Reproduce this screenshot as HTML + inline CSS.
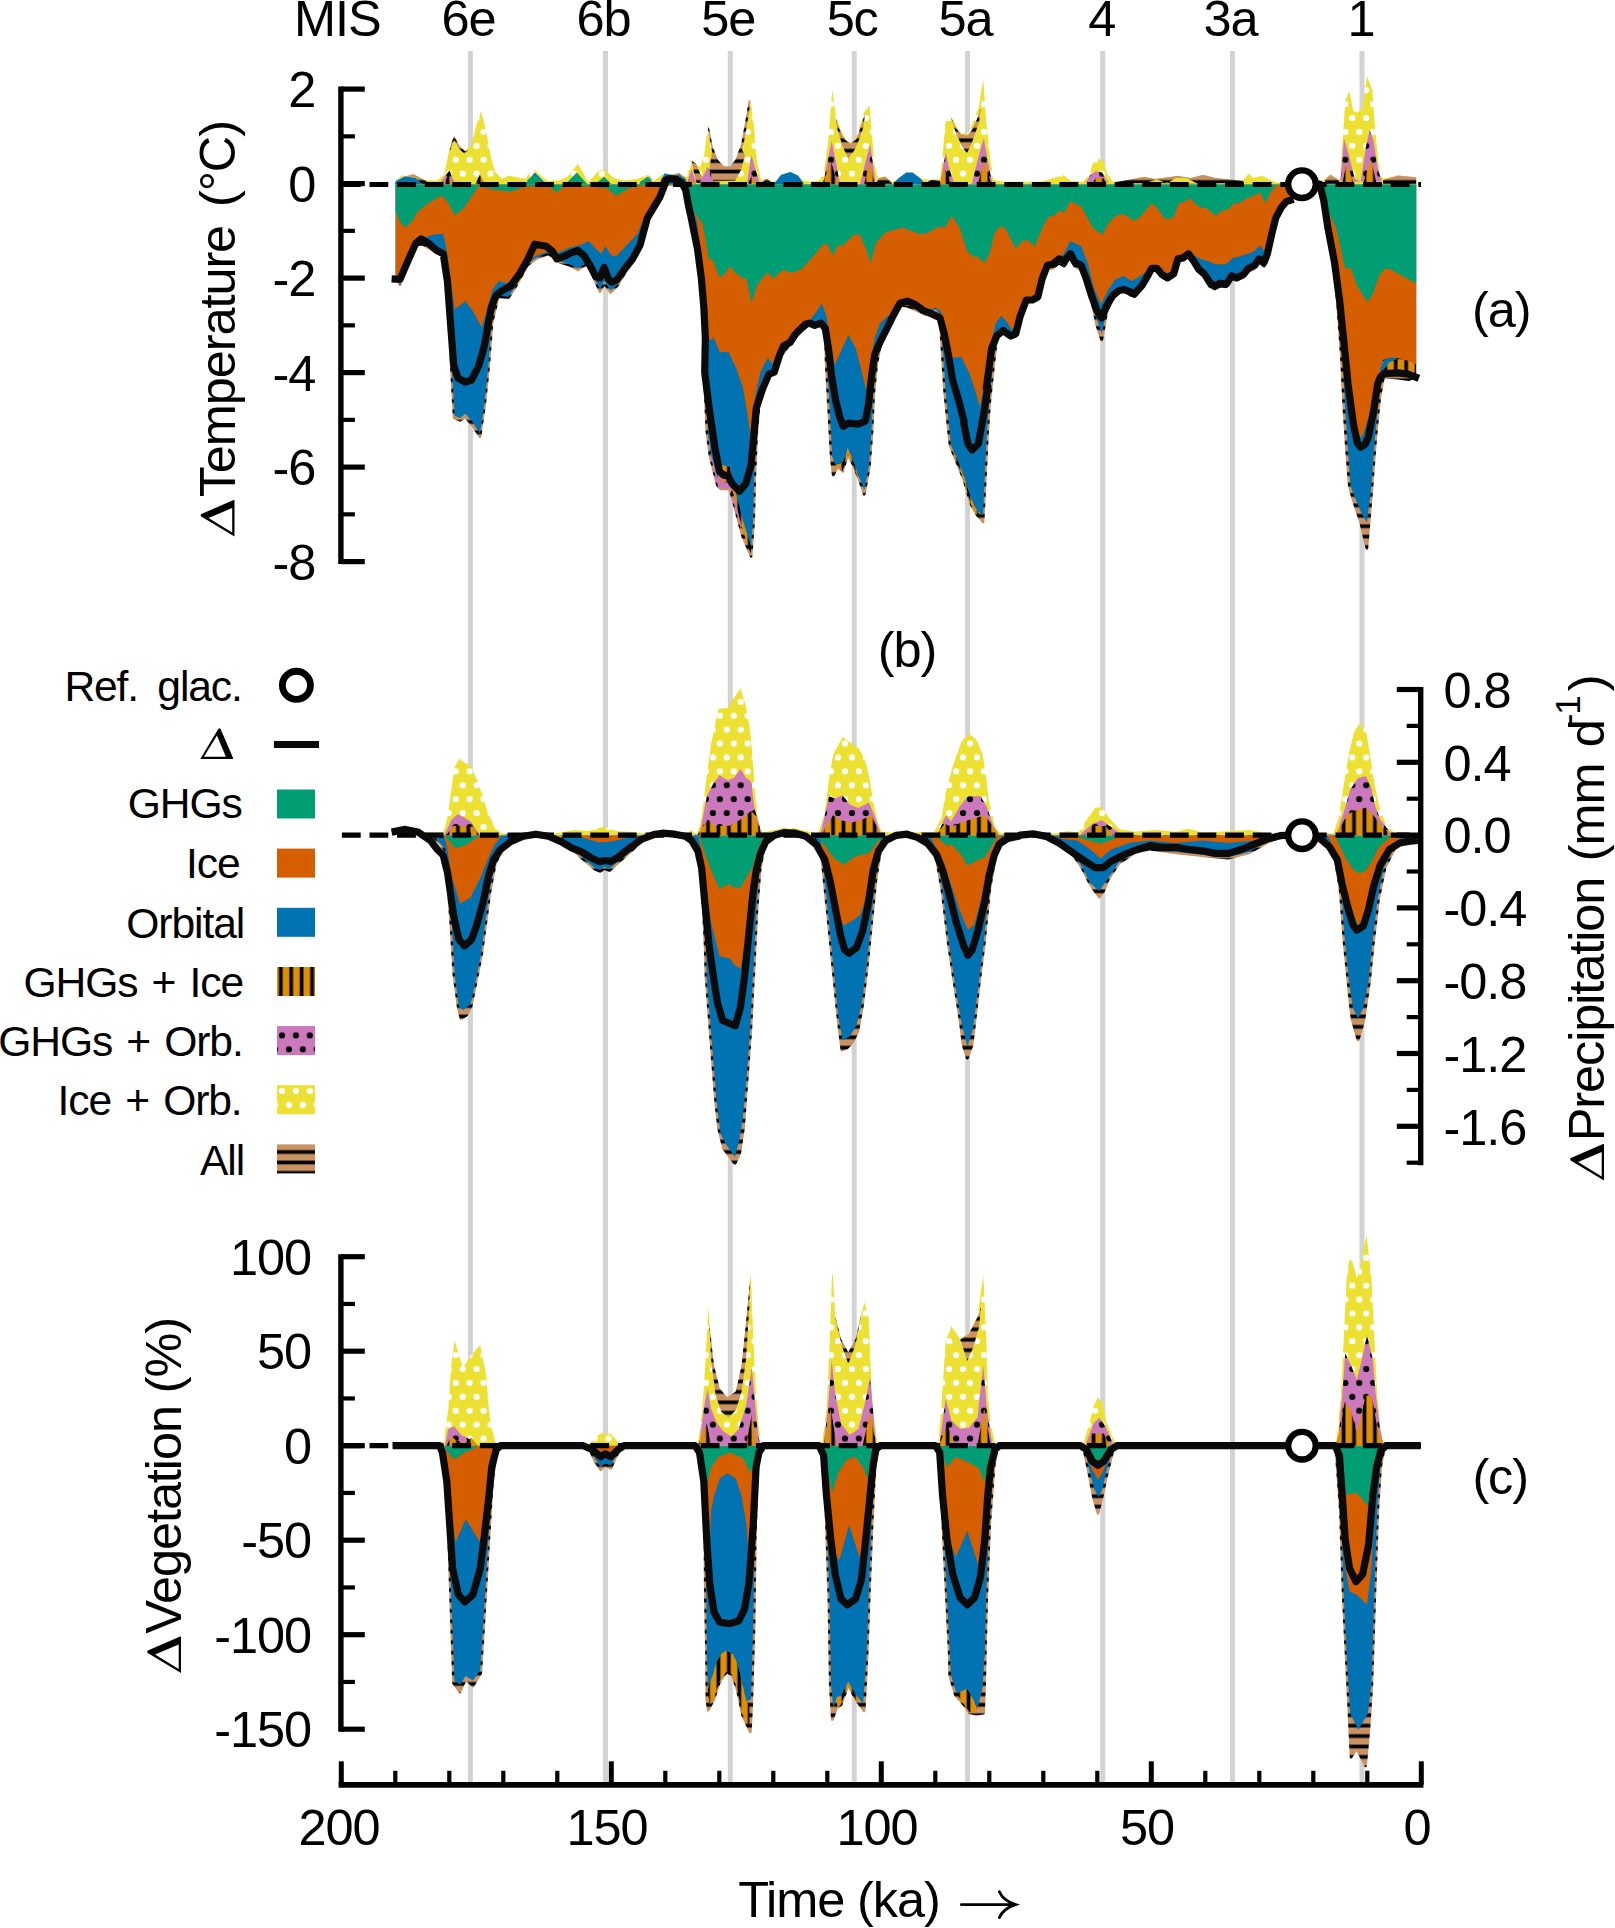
<!DOCTYPE html><html><head><meta charset="utf-8"><title>fig</title>
<style>html,body{margin:0;padding:0;background:#fff}svg{display:block}text{font-family:"Liberation Sans",sans-serif;fill:#000;letter-spacing:-1.1px}</style></head><body>
<svg width="1615" height="1928" viewBox="0 0 1615 1928">
<defs>
<pattern id="pY" patternUnits="userSpaceOnUse" x="275.05" y="1028.45" width="13.9" height="27.8"><rect width="13.9" height="27.8" fill="#ECE133"/><circle cx="6.95" cy="6.95" r="3.1" fill="#fff"/><circle cx="0" cy="20.85" r="3.1" fill="#fff"/><circle cx="13.9" cy="20.85" r="3.1" fill="#fff"/></pattern>
<pattern id="pP" patternUnits="userSpaceOnUse" x="275.05" y="1028.45" width="13.9" height="27.8"><rect width="13.9" height="27.8" fill="#CC78BC"/><circle cx="6.95" cy="6.95" r="3.1" fill="#000"/><circle cx="0" cy="20.85" r="3.1" fill="#000"/><circle cx="13.9" cy="20.85" r="3.1" fill="#000"/></pattern>
<pattern id="pV" patternUnits="userSpaceOnUse" x="275.59" y="0" width="10.42" height="20"><rect width="10.42" height="20" fill="#DE8F05"/><rect x="3.36" width="3.7" height="20" fill="#000"/></pattern>
<pattern id="pH" patternUnits="userSpaceOnUse" x="0" y="1146.79" width="20" height="10.43"><rect width="20" height="10.43" fill="#CA9161"/><rect y="3.36" width="20" height="3.7" fill="#000"/></pattern>
</defs>
<rect width="1615" height="1928" fill="#fff"/>
<line x1="470.4" y1="51" x2="470.4" y2="1783" stroke="#D3D3D3" stroke-width="5"/>
<line x1="605.5" y1="51" x2="605.5" y2="1783" stroke="#D3D3D3" stroke-width="5"/>
<line x1="730.3" y1="51" x2="730.3" y2="1783" stroke="#D3D3D3" stroke-width="5"/>
<line x1="854.2" y1="51" x2="854.2" y2="1783" stroke="#D3D3D3" stroke-width="5"/>
<line x1="967.6" y1="51" x2="967.6" y2="1783" stroke="#D3D3D3" stroke-width="5"/>
<line x1="1102.8" y1="51" x2="1102.8" y2="1783" stroke="#D3D3D3" stroke-width="5"/>
<line x1="1232.5" y1="51" x2="1232.5" y2="1783" stroke="#D3D3D3" stroke-width="5"/>
<line x1="1362" y1="51" x2="1362" y2="1783" stroke="#D3D3D3" stroke-width="5"/>
<text x="337.3" y="35.9" font-size="50.5" text-anchor="middle" >MIS</text>
<text x="468.4" y="35.7" font-size="50.5" text-anchor="middle" >6e</text>
<text x="603.5" y="35.7" font-size="50.5" text-anchor="middle" >6b</text>
<text x="728.3" y="35.7" font-size="50.5" text-anchor="middle" >5e</text>
<text x="852.2" y="35.7" font-size="50.5" text-anchor="middle" >5c</text>
<text x="965.6" y="35.7" font-size="50.5" text-anchor="middle" >5a</text>
<text x="1101.8" y="35.7" font-size="50.5" text-anchor="middle" >4</text>
<text x="1230.5" y="35.7" font-size="50.5" text-anchor="middle" >3a</text>
<text x="1361" y="35.7" font-size="50.5" text-anchor="middle" >1</text>
<g id="panelA">
<polygon points="397.3,184.2 397.3,184.2 397.3,280.0 400.0,284.2 407.4,263.2 415.8,245.3 422.1,244.2 432.6,250.5 443.2,255.8 447.4,271.6 451.2,365.3 454.1,417.9 460.0,420.4 465.3,416.8 472.6,425.3 480.0,436.8 484.6,405.3 488.8,365.3 492.0,323.2 498.3,296.8 508.4,297.9 514.7,288.4 527.4,265.3 535.8,258.9 548.4,253.7 558.9,262.1 569.5,265.3 577.9,269.9 588.4,263.2 594.7,280.0 600.0,291.6 604.2,283.2 610.5,292.6 616.8,286.3 628.4,267.4 638.9,250.5 645.3,221.1 653.7,208.4 662.1,191.6 665.3,184.6 683.2,184.6 688.5,187.6 691.0,209.4 694.5,229.3 698.5,259.0 701.4,288.7 703.4,318.4 703.1,351.1 705.2,393.2 706.8,431.1 710.0,456.3 717.4,485.8 720.5,488.9 730.0,488.9 735.3,508.9 742.6,536.3 751.1,556.3 753.8,519.5 754.8,477.4 756.9,431.1 759.1,405.8 763.7,390.0 770.0,374.2 774.2,373.2 779.5,358.4 788.4,346.3 798.9,333.7 809.5,324.2 814.7,326.3 821.1,324.2 825.3,329.5 826.0,361.6 828.9,414.2 831.1,456.3 833.2,475.3 837.4,466.8 842.6,471.1 847.9,454.2 853.2,464.7 858.4,477.4 864.3,494.2 869.4,466.8 872.1,431.1 873.8,393.2 876.9,363.7 880.1,346.8 887.4,328.4 893.7,315.8 900.0,305.3 907.4,306.3 914.7,309.5 923.2,313.7 931.6,315.8 940.0,320.0 941.8,346.8 944.7,393.2 950.0,445.8 955.3,458.4 963.7,479.5 971.1,504.7 977.4,515.3 983.1,522.0 985.4,477.4 987.5,435.3 989.6,403.7 993.8,363.7 996.8,338.3 1003.2,332.8 1010.5,338.3 1015.8,336.2 1020.0,319.4 1025.3,303.2 1032.6,300.8 1042.1,281.1 1047.4,268.4 1052.6,268.4 1058.9,263.2 1064.2,266.3 1070.5,257.9 1074.7,266.3 1081.1,269.5 1086.3,282.1 1091.6,300.0 1096.8,325.3 1101.7,340.4 1106.7,312.6 1112.6,298.9 1118.9,292.6 1124.2,291.6 1129.5,294.7 1134.7,296.8 1142.1,287.4 1148.4,276.8 1151.6,270.5 1156.8,270.5 1162.1,276.8 1167.4,280.0 1173.7,275.8 1177.9,261.1 1183.2,260.0 1188.4,255.8 1193.7,263.2 1198.9,272.6 1204.2,276.8 1209.5,286.3 1214.7,289.5 1220.0,286.3 1226.3,286.9 1231.6,278.9 1236.8,280.6 1243.2,276.8 1248.4,271.6 1254.7,268.4 1258.9,262.1 1264.2,266.3 1267.4,255.8 1271.6,236.8 1275.8,220.0 1281.1,209.5 1286.3,203.2 1291.6,196.8 1295.8,184.6 1314.7,184.6 1322.4,186.8 1324.5,211.1 1332.4,248.8 1337.5,302.8 1341.3,356.7 1344.0,410.7 1346.6,451.2 1349.3,486.2 1353.9,502.4 1360.7,522.6 1366.9,548.8 1371.7,491.6 1375.8,437.7 1379.8,397.2 1383.6,377.0 1397.9,378.3 1408.7,379.7 1414.6,377.0 1414.6,184.1 1414.6,184.2" fill="url(#pH)" stroke="url(#pH)" stroke-width="2.6" stroke-linejoin="round"/>
<polygon points="707.9,431.1 710.6,455.3 717.8,485.4 720.7,488.3 730.0,488.3 735.3,508.5 740.5,527.9 742.6,525.8 736.3,498.4 731.1,477.4 721.6,466.8 711.1,447.9" fill="url(#pP)" />
<polygon points="711.1,447.9 719.5,456.3 721.6,481.6 730.0,482.6 734.6,498.4 742.6,530.0 750.6,553.2 751.5,546.8 743.7,519.5 735.3,490.0 730.0,466.8 721.6,464.7 717.4,477.4 712.1,455.3" fill="url(#pV)" />
<polygon points="835.3,464.7 837.4,466.8 842.6,471.1 847.9,454.2 853.2,464.7 857.4,477.4 858.4,475.3 853.2,460.5 847.9,447.9 842.6,462.6" fill="url(#pV)" />
<polygon points="951.1,445.8 955.3,458.4 963.7,479.5 971.1,504.7 977.4,515.3 980.5,518.4 977.4,511.1 971.1,498.4 963.7,475.3 955.3,454.2" fill="url(#pV)" />
<polygon points="395.6,184.2 395.6,184.2 395.6,278.9 400.0,281.1 407.4,262.1 415.8,244.2 422.1,243.2 432.6,249.5 443.2,254.7 447.4,270.5 451.6,365.3 454.7,415.8 460.0,417.9 465.3,413.7 472.6,422.1 480.0,433.7 484.2,405.3 488.4,365.3 491.6,323.2 497.9,295.8 508.4,296.8 514.7,287.4 527.4,264.2 535.8,257.9 548.4,252.6 558.9,261.1 569.5,264.2 577.9,268.4 588.4,262.1 594.7,278.9 600.0,289.5 604.2,281.1 610.5,290.5 616.8,285.3 628.4,266.3 638.9,249.5 645.3,220.0 653.7,207.4 662.1,190.5 665.3,184.6 683.2,184.6 688.5,187.6 691.5,209.4 695.5,229.3 699.4,259.0 702.4,288.7 704.4,318.4 704.7,351.1 706.8,393.2 707.9,431.1 711.1,454.2 717.4,477.4 721.6,464.7 730.0,466.8 735.3,490.0 742.6,519.5 751.1,546.8 753.2,519.5 754.2,477.4 756.3,431.1 758.4,405.8 763.7,388.9 770.0,372.1 774.2,372.1 779.5,357.4 788.4,344.2 798.9,331.6 809.5,323.2 814.7,325.3 821.1,323.2 825.3,328.4 826.8,361.6 830.0,414.2 832.1,456.3 835.3,464.7 842.6,462.6 847.9,447.9 853.2,460.5 858.4,475.3 864.3,490.0 868.9,466.8 871.5,431.1 873.2,393.2 876.3,363.7 879.5,346.8 887.4,327.4 893.7,314.7 900.0,304.2 907.4,305.3 914.7,307.4 923.2,311.6 931.6,310.5 935.8,308.4 941.1,317.9 942.6,346.8 945.8,393.2 951.1,445.8 955.3,454.2 963.7,475.3 971.1,498.4 977.4,511.1 983.1,515.3 984.7,477.4 986.8,435.3 988.9,403.7 993.2,363.7 996.8,337.5 1003.2,332.0 1010.5,337.5 1015.8,335.4 1020.0,318.5 1025.3,302.1 1032.6,300.0 1042.1,280.0 1047.4,267.4 1052.6,267.4 1058.9,262.1 1064.2,265.3 1070.5,256.8 1074.7,265.3 1081.1,268.4 1086.3,281.1 1091.6,297.9 1096.8,318.9 1101.7,333.7 1106.3,312.6 1112.6,297.9 1118.9,291.6 1124.2,290.5 1129.5,293.7 1134.7,295.8 1142.1,286.3 1148.4,275.8 1151.6,269.5 1156.8,269.5 1162.1,275.8 1167.4,278.9 1173.7,274.7 1177.9,260.0 1183.2,258.9 1188.4,254.7 1193.7,262.1 1198.9,270.5 1204.2,274.7 1209.5,283.2 1214.7,286.3 1220.0,284.2 1226.3,285.3 1231.6,276.8 1236.8,278.9 1243.2,275.8 1248.4,270.5 1254.7,267.4 1258.9,261.1 1264.2,265.3 1267.4,254.7 1271.6,235.8 1275.8,218.9 1281.1,208.4 1286.3,202.1 1291.6,195.8 1295.8,184.6 1314.7,184.6 1322.4,186.8 1325.1,211.1 1333.2,248.8 1338.6,302.8 1342.6,356.7 1345.3,410.7 1348.0,451.2 1350.7,486.2 1354.7,497.0 1361.5,513.2 1366.9,522.6 1370.9,491.6 1375.0,437.7 1379.0,397.2 1383.1,360.0 1389.8,358.1 1397.9,358.1 1416.2,366.2 1416.2,184.1 1416.2,184.2" fill="#0173B2" />
<polygon points="395.6,184.2 395.6,184.2 395.6,278.9 400.0,281.1 407.4,262.1 415.8,243.2 422.1,238.9 432.6,234.7 443.2,233.7 447.4,253.7 451.6,287.4 454.7,309.5 465.3,301.1 472.6,310.5 481.7,327.4 487.4,308.4 492.6,289.5 498.9,281.1 506.3,283.2 514.7,278.9 527.4,262.1 535.8,255.8 548.4,251.6 558.9,252.6 569.5,247.4 580.0,245.3 588.4,241.1 594.7,247.4 601.1,253.7 605.3,246.3 611.6,255.8 616.8,255.8 628.4,243.2 636.8,234.7 645.3,215.8 653.7,205.3 662.1,188.4 665.3,184.6 683.2,184.6 688.5,187.6 692.5,209.4 696.5,219.3 699.4,239.2 702.4,268.9 705.4,298.6 708.4,338.2 709.5,340.0 713.7,337.9 720.0,352.6 728.4,351.6 736.8,369.5 743.2,388.4 747.4,413.7 750.5,436.8 751.1,431.1 755.3,395.3 760.5,372.1 767.9,357.4 772.1,363.7 772.6,364.2 780.0,346.3 788.4,342.1 798.9,329.5 809.5,321.1 815.8,312.6 821.7,303.2 826.3,315.8 829.5,333.7 834.7,365.3 848.4,334.7 855.8,348.4 861.1,369.5 866.3,390.5 870.5,363.2 874.7,337.9 880.0,323.2 885.3,317.9 893.7,312.6 902.1,305.3 910.5,306.3 921.1,310.5 930.5,309.5 935.8,307.4 941.1,311.6 944.2,340.0 951.6,357.9 961.1,356.8 969.5,373.7 975.8,392.6 980.0,407.4 985.3,375.8 991.6,340.0 995.8,323.2 1001.1,315.8 1006.3,321.1 1011.6,329.5 1017.9,325.3 1024.2,302.1 1032.6,297.9 1042.1,278.9 1047.4,265.3 1057.9,256.8 1063.2,254.7 1070.5,241.1 1081.1,246.3 1087.4,262.1 1093.7,287.4 1101.1,304.2 1108.4,289.5 1114.7,280.0 1123.2,275.8 1131.6,281.1 1142.1,274.7 1150.5,267.4 1158.9,272.6 1167.4,277.9 1174.7,272.6 1177.9,258.9 1188.4,251.6 1194.7,255.8 1201.1,258.9 1207.4,261.1 1215.8,264.2 1226.3,264.2 1232.6,257.9 1238.9,256.8 1247.4,253.7 1253.7,251.6 1260.0,245.3 1264.2,251.6 1267.4,253.7 1271.6,234.7 1275.8,217.9 1281.1,207.4 1286.3,201.1 1291.6,194.7 1295.8,184.6 1314.7,184.6 1322.4,186.8 1325.1,211.1 1333.2,248.8 1339.9,302.8 1344.0,343.2 1348.0,383.7 1353.4,424.2 1360.7,437.7 1362.8,435.0 1370.9,410.7 1376.3,383.7 1383.1,359.4 1389.8,358.1 1397.9,358.1 1416.2,364.8 1416.2,184.1 1416.2,184.2" fill="#D55E00" />
<polygon points="395.6,184.2 395.6,184.2 395.6,211.6 400.0,222.1 405.3,227.4 411.6,222.1 417.9,211.6 428.4,203.2 438.9,196.8 443.2,196.4 448.4,203.2 454.7,215.4 464.2,207.4 472.6,194.7 478.9,185.9 491.6,189.5 510.5,191.6 527.4,186.3 548.4,186.3 556.8,192.6 563.2,186.3 590.5,186.3 607.4,188.4 615.8,195.8 628.4,188.4 643.2,185.3 660.0,184.6 683.2,184.6 688.5,187.6 693.5,211.4 702.4,223.3 705.4,239.2 708.4,258.0 713.3,261.0 719.3,277.3 724.2,274.8 730.2,265.9 735.1,272.8 741.1,277.3 746.5,278.8 751.5,303.1 756.9,285.7 761.9,278.8 767.8,272.3 773.2,278.8 778.7,273.3 784.1,269.4 789.6,272.8 798.5,270.4 801.1,269.5 813.7,255.8 823.2,244.2 827.4,244.2 832.6,255.8 837.9,245.3 843.2,245.3 853.7,234.7 860.0,234.7 866.3,249.5 870.5,263.2 875.8,243.2 885.3,232.6 902.1,227.4 918.9,233.7 925.3,233.7 940.0,226.3 945.3,227.4 951.6,215.8 958.9,226.3 967.4,251.6 973.7,256.8 977.9,256.8 984.2,263.2 989.5,253.7 994.7,232.6 1000.0,226.3 1005.3,228.4 1015.8,248.4 1022.1,241.1 1027.4,240.0 1034.7,246.3 1043.2,226.3 1048.4,216.8 1053.7,215.8 1060.0,210.5 1064.2,212.6 1070.5,201.1 1075.8,204.2 1081.1,206.3 1086.3,215.8 1092.6,227.4 1102.1,234.7 1108.4,223.2 1114.7,216.8 1120.0,214.1 1125.3,214.7 1129.5,217.9 1134.7,221.1 1142.1,214.7 1151.6,203.2 1156.8,207.4 1163.2,216.8 1167.4,219.6 1173.7,216.8 1178.9,203.2 1184.2,202.1 1189.5,197.9 1194.7,203.2 1200.0,207.4 1205.3,207.4 1210.5,211.6 1215.8,215.8 1222.1,210.5 1228.4,209.5 1233.7,203.2 1238.9,203.2 1247.4,197.9 1253.7,195.8 1260.0,192.6 1265.3,203.2 1270.5,192.6 1275.8,185.7 1285.3,184.6 1314.7,184.6 1322.4,186.8 1327.8,211.1 1335.9,227.3 1345.3,269.1 1350.7,267.7 1357.4,286.6 1367.7,302.2 1373.6,292.0 1379.0,275.8 1384.4,269.1 1389.8,269.1 1416.2,283.4 1416.2,184.1 1416.2,184.2" fill="#029E73" />
<polygon points="395.6,184.2 395.6,184.2 395.6,181.7 401.1,175.8 413.7,174.3 424.2,180.0 436.8,180.4 444.2,174.7 449.5,148.4 454.1,135.8 458.9,145.3 465.3,151.6 471.6,144.2 476.8,123.2 481.1,111.2 486.3,131.6 490.5,154.7 494.7,171.6 502.1,178.9 508.4,175.4 525.3,178.9 529.5,172.6 534.7,169.9 542.1,176.8 548.4,181.1 558.9,180.4 567.4,176.8 577.9,163.8 588.4,182.1 598.9,170.5 604.2,169.5 613.7,177.9 624.2,180.4 636.8,178.9 647.4,174.7 652.6,181.7 662.1,174.7 664.2,173.7 674.7,174.7 683.2,175.4 689.5,169.5 692.6,161.1 700.0,167.4 704.2,154.7 708.0,125.3 711.6,148.4 716.8,163.2 724.2,169.5 731.6,169.5 737.9,161.1 744.2,140.0 747.4,118.9 750.5,98.9 753.7,123.2 756.8,161.1 761.1,180.0 767.4,178.9 773.7,182.1 777.9,180.0 784.2,173.7 790.5,172.0 796.8,174.7 803.2,180.4 809.5,181.7 820.0,180.0 824.2,169.5 828.4,140.0 832.2,89.5 835.8,114.7 841.1,131.6 847.4,142.1 853.7,142.1 860.0,125.3 864.2,112.6 869.5,105.3 871.6,129.5 874.7,165.3 877.9,177.9 885.3,176.4 892.6,182.1 898.9,177.9 906.3,172.6 912.6,172.6 921.1,178.9 931.6,180.0 940.0,178.9 942.1,161.1 945.3,123.2 950.5,114.7 955.8,125.3 961.1,133.7 968.4,132.6 973.7,121.1 978.9,106.3 983.2,78.9 986.3,123.2 990.5,161.1 993.7,180.0 1003.2,181.7 1041.1,181.7 1053.7,177.9 1063.2,174.7 1070.5,181.1 1083.2,181.7 1089.5,173.7 1093.7,161.1 1097.9,158.5 1103.2,161.1 1107.4,173.7 1112.6,181.7 1125.3,181.1 1144.2,176.8 1154.7,178.9 1177.9,176.4 1190.5,177.9 1203.2,175.4 1215.8,178.5 1230.5,180.0 1243.2,180.4 1248.4,173.7 1253.7,177.9 1262.1,175.8 1272.6,181.1 1278.9,183.2 1318.9,184.2 1323.2,180.0 1329.5,175.8 1335.8,181.1 1339.9,178.7 1342.6,140.9 1345.3,100.5 1349.3,91.0 1353.4,111.3 1357.4,112.6 1362.3,108.6 1366.9,76.2 1372.3,89.7 1375.0,127.4 1379.0,167.9 1383.1,178.7 1397.9,175.5 1416.2,177.3 1416.2,184.1 1416.2,184.2" fill="url(#pY)" />
<polygon points="394.7,184.2 395.8,181.1 405.3,176.2 415.8,177.9 422.1,184.2" fill="#0173B2" />
<polygon points="405.3,176.2 413.7,174.3 424.2,180.0 430.5,184.2 422.1,184.2 415.8,177.9" fill="url(#pH)" />
<polygon points="438.9,184.2 445.3,175.8 449.5,170.5 452.6,177.9 455.8,184.2" fill="url(#pP)" />
<polygon points="444.2,184.2 448.4,173.7 452.6,184.2" fill="url(#pV)" />
<polygon points="474.7,184.2 480.0,174.7 485.3,184.2" fill="url(#pV)" />
<polygon points="449.5,148.4 454.1,135.8 458.9,145.3 465.3,151.6 468.4,149.5 464.2,153.7 458.9,148.4 454.1,140.0 450.5,150.5" fill="url(#pH)" />
<polygon points="525.3,184.2 534.7,172.6 544.2,182.1 540.0,184.2" fill="#0173B2" />
<polygon points="527.4,180.0 534.7,174.7 543.2,183.2 546.3,184.2 527.4,184.2" fill="#029E73" />
<polygon points="565.3,184.2 576.8,172.6 587.4,184.2" fill="#029E73" />
<polygon points="594.7,184.2 604.2,176.8 611.6,184.2" fill="#029E73" />
<polygon points="638.9,184.2 647.4,176.8 651.6,184.2" fill="#029E73" />
<polygon points="660.0,184.2 664.2,174.7 674.7,175.4 683.2,176.8 687.4,184.2" fill="#0173B2" />
<polygon points="640.0,181.7 648.4,176.7 651.9,181.7 652.9,184.2 640.0,184.2" fill="#029E73" />
<polygon points="648.4,174.3 652.4,180.2 649.9,179.7" fill="url(#pH)" />
<polygon points="659.8,182.7 664.8,173.3 672.7,175.3 679.6,173.8 685.6,178.7 687.6,183.7" fill="#0173B2" />
<polygon points="664.8,173.3 669.7,174.8 679.6,173.3 685.6,177.7 683.6,178.2 679.6,174.8 672.7,176.0" fill="url(#pH)" />
<polygon points="691.5,160.9 695.5,162.9 700.4,173.8 703.4,179.7 699.4,183.2 696.5,182.7 694.0,172.8 692.5,164.9" fill="url(#pH)" />
<polygon points="686.6,183.2 691.5,169.3 696.5,183.2" fill="url(#pP)" />
<polygon points="687.6,183.7 690.5,177.7 695.5,183.7" fill="url(#pV)" />
<polygon points="699.4,183.2 707.9,166.8 715.3,183.2" fill="url(#pP)" />
<polygon points="708.0,129.5 712.6,154.7 717.9,167.4 725.3,171.6 731.6,171.6 737.9,164.2 743.2,146.3 747.4,123.2 750.5,102.1 748.8,100.0 745.3,121.1 741.1,144.2 735.8,158.9 730.5,166.3 724.2,166.3 717.9,160.0 712.6,146.3 708.8,126.3" fill="url(#pH)" />
<polygon points="712.3,150.0 715.3,161.9 721.2,167.8 727.2,169.3 733.1,166.8 738.1,159.9 742.0,150.0 745.0,155.0 741.1,169.8 735.1,180.7 713.3,181.2 709.3,169.8" fill="url(#pH)" />
<polygon points="747.0,182.7 751.5,155.0 754.9,167.8 759.9,182.7" fill="url(#pP)" />
<polygon points="748.0,183.7 751.9,175.8 756.4,183.7" fill="url(#pV)" />
<polygon points="761.4,183.2 766.8,178.2 771.8,183.2" fill="url(#pH)" />
<polygon points="773.7,184.2 781.1,174.7 790.5,172.0 797.9,175.4 804.2,184.2" fill="#0173B2" />
<polygon points="835.5,117.6 839.5,129.4 844.5,139.3 850.4,143.7 856.3,139.3 861.3,125.5 865.3,112.6 863.3,127.5 859.3,139.3 854.4,150.2 848.4,158.6 842.5,146.3 837.5,129.4" fill="url(#pH)" />
<polygon points="823.2,184.2 827.4,161.1 831.6,141.1 835.8,161.1 840.0,184.2" fill="url(#pP)" />
<polygon points="860.0,184.2 866.3,158.9 870.1,144.2 872.6,161.1 875.8,184.2" fill="url(#pP)" />
<polygon points="822.1,184.2 826.3,173.7 830.9,161.1 834.7,173.7 837.9,184.2" fill="url(#pV)" />
<polygon points="864.2,184.2 869.5,161.1 874.7,184.2" fill="url(#pV)" />
<polygon points="875.8,184.2 878.9,177.9 885.3,176.4 892.6,184.2" fill="url(#pH)" />
<polygon points="892.6,184.2 898.9,177.9 906.3,172.6 912.6,172.6 921.1,178.9 924.2,184.2" fill="#0173B2" />
<polygon points="924.2,184.2 931.6,179.6 940.0,181.1 940.0,184.2" fill="url(#pH)" />
<polygon points="950.5,116.0 955.4,127.5 961.4,134.4 967.3,135.4 972.3,129.4 977.2,118.5 980.8,108.6 979.2,121.5 975.2,133.4 971.3,144.3 966.9,153.2 961.4,145.3 955.4,131.4" fill="url(#pH)" />
<polygon points="940.0,184.2 943.2,165.3 945.9,152.6 949.5,169.5 954.7,184.2" fill="url(#pP)" />
<polygon points="971.6,184.2 977.9,158.9 983.8,137.9 987.4,158.9 992.6,184.2" fill="url(#pP)" />
<polygon points="940.0,184.2 944.2,167.4 947.4,173.7 951.6,184.2" fill="url(#pV)" />
<polygon points="977.9,184.2 983.8,161.1 991.6,184.2" fill="url(#pV)" />
<polygon points="1085.3,183.2 1090.5,174.7 1095.8,171.2 1102.1,172.6 1108.4,183.2" fill="url(#pP)" />
<polygon points="1092.6,183.2 1095.8,177.9 1103.2,178.3 1106.3,183.2" fill="url(#pV)" />
<polygon points="1116.8,182.1 1144.2,176.8 1154.7,178.9 1177.9,175.8 1190.5,177.9 1203.2,174.7 1215.8,177.9 1230.5,179.6 1243.2,181.1 1243.2,183.2 1116.8,183.2" fill="url(#pH)" />
<polygon points="1148.4,181.7 1156.8,179.6 1167.4,183.2 1175.8,177.9 1186.3,177.9 1196.8,183.2" fill="url(#pY)" />
<polygon points="1340.4,181.4 1344.0,138.2 1348.0,151.7 1354.7,178.7 1360.7,181.4 1365.5,149.0 1369.6,130.1 1373.6,140.9 1377.7,167.9 1381.7,181.4" fill="url(#pP)" />
<polygon points="1342.6,182.7 1346.6,162.5 1353.4,182.7" fill="url(#pV)" />
<polygon points="1363.4,182.7 1370.9,158.5 1376.3,182.7" fill="url(#pV)" />
<polygon points="1383.1,180.0 1397.9,175.5 1416.2,177.3 1416.2,184.1 1383.1,184.1" fill="url(#pH)" />
<polygon points="1325.1,180.0 1330.5,174.6 1338.6,180.0 1339.9,184.1 1325.1,184.1" fill="url(#pH)" />
<polygon points="1383.1,370.2 1389.8,362.1 1397.9,358.9 1408.7,360.8 1416.2,364.8 1416.2,374.3 1397.9,372.9 1384.4,374.3" fill="url(#pV)" />
<polygon points="1380.4,370.2 1384.4,359.4 1392.5,357.5 1397.9,358.4 1389.8,362.1 1383.1,370.2" fill="#0173B2" />
</g>
<line x1="340.5" y1="184.5" x2="1421" y2="184.5" stroke="#000" stroke-width="5.2" stroke-dasharray="18.8 8.8" stroke-dashoffset="-1.4"/>
<polyline points="391.6,278.9 400.0,279.4 407.4,262.1 415.8,243.2 421.1,238.9 428.4,243.2 436.8,250.5 443.2,253.7 447.4,281.1 450.5,323.2 453.7,365.3 457.9,377.9 465.3,382.1 471.6,380.0 478.9,365.3 484.2,346.3 488.4,323.2 491.6,306.3 495.8,295.8 502.1,290.5 510.5,286.3 518.9,274.7 527.4,260.0 534.7,244.2 546.3,246.3 552.6,251.6 556.8,258.9 565.3,255.8 571.6,252.6 577.9,250.5 584.2,255.8 590.5,266.3 595.8,276.8 600.0,277.9 604.2,267.4 608.4,278.9 611.6,282.1 616.8,280.0 624.2,269.5 632.6,258.9 640.0,245.3 647.4,217.9 653.7,207.4 660.0,196.8 665.3,183.2 664.8,180.7 669.7,178.7 675.7,179.2 681.6,182.7 685.6,189.6 688.5,205.5 691.5,219.3 697.5,249.1 701.4,278.8 703.9,308.5 705.4,338.2 704.7,372.1 707.3,393.2 710.0,414.2 715.3,450.0 719.5,471.1 723.7,475.3 727.9,475.3 732.1,483.7 739.5,491.1 745.8,483.7 751.1,464.7 754.2,431.1 756.3,407.9 762.6,388.9 768.9,374.2 774.2,372.1 779.5,355.3 783.7,345.8 790.0,342.6 795.3,334.2 797.9,331.6 805.3,324.2 809.5,323.2 814.7,325.3 821.1,323.2 825.3,328.4 828.4,348.4 831.6,375.8 835.8,401.1 840.0,417.9 843.2,426.3 848.4,423.2 857.9,424.2 865.3,421.1 868.4,405.3 871.6,375.8 874.7,354.7 880.0,342.1 887.4,327.4 893.7,314.7 900.0,303.2 907.4,301.1 914.7,304.2 923.2,310.5 931.6,313.7 940.0,317.9 944.2,333.7 948.4,354.7 952.6,380.0 958.9,401.1 964.2,422.1 963.7,422.6 967.9,443.7 972.1,450.0 978.4,443.7 983.7,414.2 987.9,386.8 986.3,388.4 991.6,348.4 996.8,335.8 1003.2,330.5 1010.5,335.8 1015.8,333.7 1020.0,316.8 1026.3,300.0 1032.6,300.0 1037.9,296.8 1042.1,278.9 1047.4,265.3 1052.6,264.2 1058.9,258.9 1064.2,261.1 1070.5,253.7 1074.7,262.1 1081.1,265.3 1086.3,278.9 1091.6,295.8 1096.8,310.5 1101.7,317.9 1106.3,306.3 1112.6,295.8 1118.9,290.5 1124.2,289.5 1129.5,291.6 1134.7,293.7 1142.1,285.3 1148.4,274.7 1151.6,268.4 1156.8,268.4 1162.1,274.7 1167.4,277.9 1173.7,273.7 1177.9,258.9 1183.2,257.9 1188.4,253.7 1193.7,261.1 1198.9,269.5 1204.2,273.7 1209.5,282.1 1214.7,286.3 1220.0,283.2 1226.3,284.2 1231.6,275.8 1236.8,277.9 1243.2,274.7 1248.4,268.4 1254.7,265.3 1258.9,258.9 1264.2,262.1 1267.4,253.7 1271.6,234.7 1275.8,217.9 1281.1,207.8 1286.3,201.5 1293.7,199.4" fill="none" stroke="#0a0a0a" stroke-width="7.2" stroke-linejoin="round" stroke-linecap="butt" />
<polyline points="1302.1,184.1 1319.7,184.1 1323.7,200.3 1327.8,227.3 1334.5,262.3 1339.9,302.8 1344.0,343.2 1348.0,383.7 1353.4,424.2 1357.4,443.1 1360.7,447.1 1365.0,444.4 1368.2,437.7 1373.6,410.7 1377.7,383.7 1380.4,377.0 1384.4,373.7 1397.9,372.9 1408.7,374.3 1418.9,378.3" fill="none" stroke="#0a0a0a" stroke-width="7.2" stroke-linejoin="round" stroke-linecap="butt" />
<circle cx="1302" cy="184.2" r="13.8" stroke="#000" stroke-width="6.4" fill="#fff"/>
<g id="panelB">
<polygon points="432.6,835.2 432.6,835.3 444.8,848.9 447.8,880.5 450.9,922.6 454.1,975.3 458.3,1006.8 461.1,1018.4 466.3,1015.3 470.9,1006.8 475.2,985.8 481.5,954.2 485.7,922.6 489.9,891.1 495.2,863.7 502.5,848.9 510.9,838.4 523.2,835.3 561.1,835.3 563.2,838.4 580.0,856.3 594.7,868.9 600.0,871.5 604.2,868.3 609.5,870.4 617.9,862.6 632.6,849.6 643.2,838.8 653.7,835.3 688.4,835.3 690.0,838.4 698.0,853.2 702.0,880.5 705.2,943.7 706.2,979.9 706.4,980.0 711.1,1041.9 716.0,1103.8 718.8,1128.6 723.7,1148.4 734.9,1163.3 739.6,1153.4 743.3,1128.6 747.0,1079.1 750.7,1029.5 753.2,980.0 753.6,975.3 756.7,912.1 759.9,870.0 764.1,846.8 768.3,838.4 774.2,835.3 814.2,835.3 815.9,838.4 822.2,859.5 826.4,901.6 830.6,943.7 834.8,985.8 838.0,1017.4 842.0,1050.0 846.8,1047.9 852.1,1042.6 857.4,1032.1 862.2,1006.8 867.3,964.7 871.5,922.6 875.7,880.5 879.9,853.2 885.2,838.4 887.9,835.3 925.8,835.3 927.5,838.4 935.9,855.3 942.2,891.1 948.5,943.7 954.8,985.8 960.7,1023.7 963.3,1044.7 967.3,1058.0 971.7,1045.8 974.0,1027.9 978.8,985.8 984.1,943.7 989.4,891.1 994.6,859.5 1000.9,840.5 1003.7,835.3 1048.6,835.1 1053.8,839.1 1072.0,852.8 1082.4,868.4 1090.2,884.0 1095.4,891.6 1099.3,896.8 1103.2,891.6 1108.4,878.8 1118.8,863.2 1134.4,852.8 1150.0,848.9 1176.0,852.8 1202.1,855.4 1228.1,858.0 1248.9,852.8 1267.1,842.4 1280.1,837.0 1287.9,835.1 1316.5,835.1 1321.7,838.3 1334.2,852.1 1340.4,891.1 1344.3,943.1 1348.2,982.1 1350.8,1008.1 1352.4,1019.8 1358.1,1039.8 1363.8,1019.8 1365.4,1008.1 1369.3,982.1 1373.2,943.1 1378.4,898.9 1384.9,867.7 1395.0,847.4 1405.4,839.6 1419.2,837.0 1419.2,835.1 1419.2,835.2" fill="url(#pH)" stroke="url(#pH)" stroke-width="3" stroke-linejoin="round"/>
<polygon points="432.6,835.2 432.6,835.3 445.3,848.9 448.4,880.5 451.6,922.6 454.7,975.3 458.9,1006.8 463.2,1010.0 470.5,1004.7 474.7,985.8 481.1,954.2 485.3,922.6 489.5,891.1 494.7,863.7 502.1,848.9 510.5,838.4 523.2,835.3 561.1,835.3 563.2,838.4 580.0,855.3 594.7,867.9 600.0,870.0 604.2,866.8 609.5,868.9 617.9,861.6 632.6,848.9 643.2,838.4 653.7,835.3 688.4,835.3 690.0,838.4 698.4,853.2 702.6,880.5 705.8,943.7 706.8,979.9 706.9,980.0 711.8,1041.9 716.8,1103.8 720.5,1133.6 725.4,1143.5 734.9,1157.1 739.1,1141.0 742.8,1118.7 746.5,1079.1 750.2,1029.5 752.7,980.0 753.2,975.3 756.3,912.1 759.5,870.0 763.7,846.8 767.9,838.4 774.2,835.3 814.2,835.3 816.3,838.4 822.6,859.5 826.8,901.6 831.1,943.7 835.3,985.8 838.4,1017.4 842.6,1040.5 850.0,1036.3 856.3,1025.8 861.6,1004.7 866.8,964.7 871.1,922.6 875.3,880.5 879.5,853.2 884.7,838.4 887.9,835.3 925.8,835.3 927.9,838.4 936.3,855.3 942.6,891.1 948.9,943.7 955.3,985.8 961.6,1023.7 967.5,1046.8 973.2,1027.9 978.4,985.8 983.7,943.7 988.9,891.1 994.2,859.5 1000.5,840.5 1003.7,835.3 1048.6,835.1 1053.8,839.1 1072.0,852.1 1082.4,867.7 1090.2,883.3 1099.3,891.1 1108.4,878.1 1118.8,862.5 1134.4,852.1 1150.0,848.2 1176.0,852.1 1202.1,854.7 1228.1,857.3 1248.9,852.1 1267.1,841.7 1280.1,836.4 1287.9,835.1 1316.5,835.1 1321.7,837.8 1334.7,852.1 1341.2,891.1 1345.1,943.1 1349.0,982.1 1352.9,1008.1 1358.1,1018.5 1363.3,1008.1 1368.5,982.1 1372.4,943.1 1377.6,898.9 1384.1,867.7 1394.5,846.9 1404.9,839.1 1419.2,836.4 1419.2,835.1 1419.2,835.2" fill="#0173B2" />
<polygon points="443.2,835.2 443.2,835.3 444.2,836.3 447.4,848.9 451.6,876.3 460.0,903.7 470.5,897.4 481.1,876.3 489.5,855.3 494.7,844.7 500.0,837.4 502.1,835.3 580.0,835.3 582.1,837.4 598.9,842.6 611.6,841.6 628.4,837.4 630.5,835.3 698.4,835.3 700.5,846.8 705.8,880.5 711.1,922.6 719.5,956.3 730.0,958.4 734.2,964.7 740.5,968.9 744.7,943.7 748.9,912.1 753.2,880.5 757.4,859.5 762.6,840.5 764.7,835.3 819.5,835.3 822.6,851.1 828.9,880.5 837.4,912.1 843.7,925.8 854.2,919.5 860.5,914.2 864.7,901.6 871.1,876.3 875.3,855.3 879.5,842.6 881.6,835.3 930.0,835.3 932.1,840.5 942.6,859.5 951.1,884.7 959.5,910.0 967.9,930.0 974.2,924.7 980.5,901.6 986.8,876.3 993.2,855.3 999.5,840.5 1001.6,835.3 1056.4,835.1 1061.6,839.1 1077.2,840.4 1090.2,849.5 1100.6,858.6 1111.0,849.5 1129.2,843.0 1150.0,840.4 1176.0,843.0 1202.1,840.4 1228.1,843.0 1254.1,840.4 1267.1,836.4 1272.3,835.1 1326.9,835.1 1329.5,839.1 1337.3,857.3 1345.1,888.5 1352.9,911.9 1358.1,926.2 1364.6,914.5 1371.1,888.5 1378.9,862.5 1389.3,846.9 1399.7,839.1 1404.9,835.1 1404.9,835.2" fill="#D55E00" />
<polygon points="444.2,835.2 444.2,835.3 445.3,836.3 454.7,847.9 464.2,845.8 472.6,840.5 478.9,836.3 480.0,835.3 698.4,835.3 699.5,836.3 704.7,853.2 711.1,870.0 719.5,888.9 728.9,883.7 732.1,886.8 740.5,887.9 745.8,878.4 752.1,867.9 757.4,851.1 762.6,838.4 763.7,835.3 817.4,835.3 819.5,838.4 833.2,857.4 843.7,864.7 852.1,858.4 858.4,855.3 868.9,853.2 875.3,844.7 880.5,838.4 881.6,835.3 936.3,835.3 938.4,838.4 946.8,845.8 951.1,844.3 961.6,855.3 967.9,865.8 976.3,860.5 984.7,857.4 991.1,846.8 996.3,838.4 997.4,835.3 1077.2,835.1 1079.8,837.8 1100.6,843.7 1116.2,837.8 1118.8,835.1 1333.4,835.1 1336.0,837.8 1345.1,857.3 1352.9,869.0 1359.4,873.6 1365.9,870.3 1372.4,859.9 1378.9,846.9 1389.3,837.8 1391.9,835.1 1391.9,835.2" fill="#029E73" />
<polygon points="422.1,835.2 422.1,835.3 426.3,832.1 443.2,832.5 447.4,817.4 451.6,787.9 454.7,766.8 459.6,758.0 464.2,762.6 470.5,765.8 476.8,779.5 482.1,794.2 487.4,811.1 493.7,825.8 500.0,832.5 506.3,835.3 552.6,835.3 554.7,833.8 573.7,830.0 588.4,831.1 603.2,826.8 615.8,831.1 632.6,832.1 645.3,833.8 647.4,835.3 683.2,835.3 691.6,830.0 695.8,835.3 696.3,835.3 697.4,833.2 701.6,817.4 706.8,775.3 711.1,743.7 718.4,708.9 727.9,707.9 734.2,697.4 740.5,688.5 745.8,705.8 750.0,728.9 753.2,764.7 755.3,796.3 758.4,821.6 762.6,832.5 774.2,830.0 788.9,826.8 805.8,831.1 816.3,833.2 818.4,832.1 824.7,813.2 828.9,779.5 833.2,754.2 842.6,736.9 850.0,742.6 858.4,747.9 864.7,758.4 868.9,775.3 873.2,800.5 877.4,821.6 881.6,831.7 900.5,833.2 921.6,832.1 934.2,832.1 941.6,817.4 945.8,792.1 953.2,764.7 961.6,741.6 968.9,733.8 976.3,739.5 982.6,754.2 985.8,775.3 988.9,800.5 994.2,823.7 999.5,832.5 1003.7,835.3 1046.0,835.1 1051.2,834.4 1066.8,831.2 1078.5,832.5 1087.6,818.2 1095.4,807.8 1101.9,807.1 1108.4,816.9 1118.8,828.6 1134.4,831.8 1155.2,829.9 1176.0,831.8 1189.1,828.6 1202.1,832.5 1228.1,831.2 1248.9,829.9 1267.1,833.3 1272.3,835.1 1330.8,835.1 1333.4,833.3 1338.6,818.2 1343.8,784.4 1349.0,753.2 1354.2,731.1 1359.4,724.1 1365.9,729.8 1369.8,753.2 1373.7,779.2 1378.9,805.2 1385.4,823.4 1394.5,833.3 1397.1,835.1 1397.1,835.2" fill="url(#pY)" />
<polygon points="444.2,835.2 444.2,835.3 445.3,833.2 451.6,819.5 457.9,814.2 464.2,817.4 470.5,821.6 478.9,833.2 480.0,835.3 698.4,835.3 700.5,830.0 706.8,796.3 713.2,783.7 719.5,775.3 727.9,780.5 734.2,777.4 740.5,768.9 745.8,777.4 751.1,781.6 754.2,806.8 759.5,825.8 761.6,835.3 819.5,835.3 821.6,830.0 828.9,796.3 835.3,798.4 842.6,795.3 850.0,804.7 858.4,807.9 868.9,802.6 875.3,817.4 879.5,830.0 880.5,835.3 937.4,835.3 939.5,830.0 945.8,815.3 951.1,821.6 959.5,806.8 967.9,796.3 980.5,796.3 986.8,806.8 993.2,825.8 997.4,832.1 998.4,835.3 1079.8,835.1 1082.4,832.5 1092.8,823.4 1101.9,820.3 1109.7,826.0 1118.8,832.5 1121.4,835.1 1336.0,835.1 1338.6,828.6 1345.1,807.8 1350.3,789.6 1358.1,777.9 1365.9,776.1 1371.1,787.0 1375.0,805.2 1380.2,819.5 1389.3,831.2 1391.9,835.1 1391.9,835.2" fill="url(#pP)" />
<polygon points="445.3,835.2 445.3,835.3 447.4,833.8 453.7,825.8 472.6,826.8 477.9,833.2 478.9,835.3 697.4,835.3 698.4,833.2 707.9,819.5 715.3,825.8 730.0,825.8 740.5,819.5 751.1,811.1 755.3,815.3 760.5,832.1 761.6,835.3 822.6,835.3 824.7,827.9 833.2,815.3 841.6,820.5 852.1,822.6 862.6,819.5 871.1,815.3 877.4,827.9 879.5,835.3 936.3,835.3 938.4,832.1 944.7,823.7 951.1,826.8 963.7,821.6 974.2,818.4 984.7,815.3 991.1,823.7 997.4,833.2 998.4,835.3 1083.7,835.1 1086.3,833.3 1092.8,826.0 1105.8,826.0 1111.0,833.3 1113.6,835.1 1336.0,835.1 1338.6,829.9 1347.7,814.3 1355.5,810.4 1365.9,807.8 1373.7,815.6 1381.5,826.0 1389.3,833.3 1391.9,835.1 1391.9,835.2" fill="url(#pV)" />
</g>
<line x1="341.9" y1="835.2" x2="1421" y2="835.2" stroke="#000" stroke-width="5.2" stroke-dasharray="18.8 8.8"/>
<polyline points="391.6,832.1 405.3,829.4 417.9,832.1 430.5,840.5 436.8,848.9 443.2,855.3 447.4,872.1 450.5,893.2 453.7,916.3 458.9,939.5 464.6,945.8 471.6,939.5 476.8,924.7 483.2,901.6 488.4,876.3 493.7,859.5 500.0,850.0 510.5,841.6 523.2,836.3 535.8,834.2 548.4,836.3 561.1,841.6 571.6,847.9 582.1,852.1 590.5,857.4 598.9,861.6 605.3,860.5 610.5,861.6 617.9,857.4 628.4,848.9 641.1,839.5 653.7,834.6 662.1,833.2 674.7,834.2 685.3,836.3 691.6,840.5 697.9,851.1 701.6,867.9 704.7,901.6 708.9,943.7 713.2,975.3 717.4,1002.6 722.6,1020.5 735.3,1025.8 740.5,1006.8 744.7,975.3 748.9,933.2 753.2,891.1 756.3,870.0 760.5,853.2 765.8,841.6 774.2,835.3 784.7,832.5 795.3,833.2 805.8,836.3 816.3,844.7 824.7,859.5 830.0,880.5 835.3,907.9 840.5,935.3 844.7,950.0 848.9,953.2 856.3,947.9 862.6,931.1 867.9,905.8 873.2,870.0 878.4,851.1 885.8,840.5 896.3,835.3 906.8,834.2 917.4,837.4 927.9,843.7 936.3,854.2 942.6,870.0 948.9,893.2 956.3,922.6 963.7,945.8 967.9,955.3 972.1,950.0 978.4,928.9 984.7,901.6 988.9,876.3 994.2,855.3 999.5,843.7 1007.9,838.4 1018.4,836.3 1020.0,835.1 1033.0,833.8 1046.0,836.4 1059.0,843.0 1072.0,852.1 1085.0,861.2 1095.4,867.7 1103.2,867.7 1111.0,861.2 1124.0,854.7 1137.0,849.5 1150.0,845.6 1163.0,847.4 1176.0,847.4 1189.1,849.5 1202.1,850.8 1215.1,853.4 1228.1,853.4 1241.1,849.5 1254.1,844.3 1267.1,839.1 1280.1,835.7 1290.5,835.1" fill="none" stroke="#0a0a0a" stroke-width="7.2" stroke-linejoin="round" stroke-linecap="butt" />
<polyline points="1311.3,835.1 1319.1,837.8 1329.5,846.9 1337.3,859.9 1342.5,885.9 1347.7,906.7 1352.9,924.9 1356.8,930.1 1363.3,926.2 1368.5,909.3 1373.7,885.9 1380.2,865.1 1389.3,849.5 1399.7,843.0 1410.1,841.1 1417.9,840.4" fill="none" stroke="#0a0a0a" stroke-width="7.2" stroke-linejoin="round" stroke-linecap="butt" />
<circle cx="1302" cy="835.2" r="13.8" stroke="#000" stroke-width="6.4" fill="#fff"/>
<g id="panelC">
<polygon points="441.9,1445.7 441.9,1448.0 447.7,1510.4 450.6,1597.6 453.5,1683.3 459.9,1692.0 465.7,1678.9 472.9,1686.2 480.8,1673.1 483.7,1626.6 488.0,1554.0 492.4,1481.4 496.8,1450.9 496.8,1445.7" fill="url(#pH)" stroke="url(#pH)" stroke-width="2.6" stroke-linejoin="round"/>
<polygon points="442.4,1445.7 442.4,1449.5 448.3,1510.4 451.2,1597.6 454.4,1680.4 459.9,1684.7 465.7,1676.0 472.9,1680.4 480.2,1670.2 483.1,1626.6 487.5,1554.0 491.8,1481.4 496.2,1452.4 496.2,1445.7" fill="#0173B2" />
<polygon points="443.9,1445.7 443.9,1452.4 451.2,1510.4 455.5,1542.4 465.7,1519.2 480.2,1542.4 486.0,1495.9 492.7,1458.2 492.7,1445.7" fill="#D55E00" />
<polygon points="444.5,1445.7 444.5,1448.0 454.1,1459.6 464.2,1452.4 475.8,1448.0 475.8,1445.7" fill="#029E73" />
<polygon points="443.9,1445.7 443.9,1442.2 448.3,1408.8 451.2,1365.2 454.6,1340.5 462.8,1368.1 470.0,1356.5 480.2,1344.9 486.0,1373.9 488.9,1408.8 491.8,1429.1 496.2,1443.6 496.2,1445.7" fill="url(#pY)" />
<polygon points="445.3,1445.7 445.3,1443.6 448.3,1429.1 454.1,1426.2 461.3,1434.9 467.1,1437.8 475.8,1443.6 475.8,1445.7" fill="url(#pP)" />
<polygon points="446.8,1445.7 446.8,1445.1 451.2,1436.4 457.0,1440.7 464.2,1442.2 471.5,1437.8 477.3,1445.1 477.3,1445.7" fill="url(#pV)" />
<polygon points="589.1,1445.7 589.1,1448.0 594.9,1461.1 600.7,1469.8 605.1,1465.4 610.9,1468.3 616.7,1455.3 621.1,1448.0 621.1,1445.7" fill="url(#pH)" stroke="url(#pH)" stroke-width="2.6" stroke-linejoin="round"/>
<polygon points="589.7,1445.7 589.7,1448.0 595.5,1459.6 600.7,1466.9 605.1,1463.4 610.9,1465.4 616.1,1454.7 620.5,1448.0 620.5,1445.7" fill="#0173B2" />
<polygon points="593.5,1445.7 593.5,1448.0 600.7,1452.4 609.5,1452.4 616.7,1448.0 616.7,1445.7" fill="#D55E00" />
<polygon points="589.7,1445.7 589.7,1443.6 596.4,1436.4 603.6,1432.0 606.5,1434.9 610.9,1433.5 616.7,1440.7 620.5,1444.2 620.5,1445.7" fill="url(#pY)" />
<polygon points="697.5,1445.7 697.5,1448.0 701.8,1461.1 704.7,1510.4 705.3,1597.6 706.5,1655.7 706.8,1699.3 708.2,1710.2 713.8,1699.3 719.7,1681.4 726.7,1671.9 732.6,1675.5 737.6,1691.3 742.5,1715.1 750.4,1731.9 751.8,1703.2 754.1,1626.6 755.3,1539.5 757.0,1481.4 759.0,1452.4 759.0,1445.7" fill="url(#pH)" stroke="url(#pH)" stroke-width="2.6" stroke-linejoin="round"/>
<polygon points="707.8,1689.7 711.8,1677.5 716.7,1661.6 721.7,1652.7 725.7,1650.7 732.6,1653.7 737.6,1663.6 741.5,1679.4 746.5,1701.2 749.4,1703.2 749.4,1727.0 742.5,1714.7 737.6,1690.9 732.6,1675.1 726.7,1671.5 719.7,1681.0 713.8,1698.9 709.8,1705.2" fill="url(#pV)" />
<polygon points="698.0,1445.7 698.0,1448.0 702.4,1461.1 705.3,1510.4 706.2,1597.6 707.0,1655.7 707.8,1689.3 711.8,1677.5 716.7,1661.6 721.7,1652.7 725.7,1650.7 732.6,1653.7 737.6,1663.6 741.5,1679.4 746.5,1701.2 751.0,1699.3 753.2,1626.6 754.7,1539.5 756.4,1481.4 758.4,1452.4 758.4,1445.7" fill="#0173B2" />
<polygon points="699.5,1445.7 699.5,1452.4 702.4,1461.1 705.9,1510.4 708.2,1597.6 711.1,1510.4 714.0,1495.9 719.8,1478.5 727.1,1473.3 735.8,1478.5 741.6,1495.9 746.5,1525.0 749.4,1568.5 752.3,1583.1 754.7,1481.4 757.0,1452.4 757.0,1445.7" fill="#D55E00" />
<polygon points="698.0,1445.7 698.0,1448.0 702.4,1461.1 706.7,1487.2 711.1,1466.9 718.4,1456.7 730.0,1452.4 743.1,1458.2 750.3,1472.7 754.7,1461.1 757.6,1449.5 757.6,1445.7" fill="#029E73" />
<polygon points="698.0,1445.7 698.0,1443.6 702.4,1408.8 705.3,1365.2 708.2,1307.1 711.1,1350.7 714.0,1376.8 719.8,1391.4 727.1,1397.2 734.3,1394.3 740.2,1376.8 744.5,1344.9 747.4,1307.1 750.9,1273.7 753.2,1336.2 756.1,1394.3 759.0,1429.1 761.9,1445.1 761.9,1445.7" fill="url(#pY)" />
<polygon points="709.1,1321.7 714.0,1365.2 719.8,1388.5 727.1,1397.2 735.8,1391.4 741.6,1365.2 746.0,1321.7 750.3,1278.1 749.4,1307.1 746.0,1359.4 741.6,1391.4 735.8,1410.2 728.5,1417.5 721.3,1411.7 715.5,1394.3 711.1,1359.4" fill="url(#pH)" />
<polygon points="699.5,1445.7 699.5,1443.6 703.8,1408.8 707.6,1388.5 711.1,1408.8 716.9,1423.3 724.2,1432.0 731.4,1436.4 738.7,1429.1 746.0,1405.9 751.8,1368.1 755.3,1405.9 758.2,1434.9 760.5,1445.1 760.5,1445.7" fill="url(#pP)" />
<polygon points="698.0,1445.7 698.0,1445.1 706.7,1423.3 711.1,1445.1 711.1,1445.7" fill="url(#pV)" />
<polygon points="746.0,1445.7 746.0,1445.1 751.8,1414.6 757.6,1445.1 757.6,1445.7" fill="url(#pV)" />
<polygon points="821.5,1445.7 821.5,1449.5 825.9,1510.4 828.8,1597.6 830.2,1684.7 832.3,1719.6 836.6,1707.9 841.0,1705.0 848.3,1684.7 855.5,1699.2 864.2,1710.9 867.1,1655.7 869.2,1597.6 872.1,1525.0 875.0,1466.9 877.9,1449.5 877.9,1445.7" fill="url(#pH)" stroke="url(#pH)" stroke-width="2.6" stroke-linejoin="round"/>
<polygon points="836.6,1699.2 841.6,1692.0 848.3,1680.4 854.9,1690.5 859.9,1699.2 856.1,1700.7 848.3,1685.3 841.0,1704.5 837.5,1707.9" fill="url(#pV)" />
<polygon points="822.1,1445.7 822.1,1449.5 826.5,1510.4 829.4,1597.6 831.1,1684.7 833.4,1707.9 837.2,1696.3 841.0,1696.3 848.3,1681.8 854.9,1693.4 863.1,1703.6 866.6,1655.7 868.6,1597.6 871.5,1525.0 874.4,1466.9 877.3,1449.5 877.3,1445.7" fill="#0173B2" />
<polygon points="823.0,1445.7 823.0,1452.4 825.0,1466.9 829.4,1510.4 833.7,1554.0 839.5,1559.8 849.1,1525.0 861.3,1562.7 865.7,1525.0 868.6,1481.4 872.9,1461.1 876.4,1450.9 876.4,1445.7" fill="#D55E00" />
<polygon points="823.0,1445.7 823.0,1449.5 826.5,1466.9 832.3,1493.0 838.1,1472.7 846.8,1459.6 855.5,1456.7 862.8,1466.9 868.6,1479.9 872.9,1461.1 877.3,1449.5 877.3,1445.7" fill="#029E73" />
<polygon points="822.1,1445.7 822.1,1443.6 826.5,1408.8 829.4,1350.7 832.3,1266.5 835.2,1315.8 839.5,1336.2 848.3,1352.2 857.0,1336.2 864.2,1302.2 868.6,1315.8 870.6,1365.2 872.9,1408.8 877.3,1442.2 877.3,1445.7" fill="url(#pY)" />
<polygon points="835.2,1315.8 841.0,1339.1 848.3,1352.2 855.5,1339.1 862.8,1307.1 859.9,1321.7 855.5,1344.9 848.3,1363.8 842.4,1347.8 836.6,1324.6" fill="url(#pH)" />
<polygon points="823.6,1445.7 823.6,1443.6 827.9,1408.8 831.7,1359.4 835.2,1394.3 841.0,1423.3 849.7,1434.9 858.4,1429.1 865.7,1400.1 870.0,1376.8 872.9,1408.8 875.8,1442.2 875.8,1445.7" fill="url(#pP)" />
<polygon points="823.6,1445.7 823.6,1445.1 830.8,1408.8 836.6,1445.1 836.6,1445.7" fill="url(#pV)" />
<polygon points="862.8,1445.7 862.8,1445.1 870.0,1411.7 875.8,1445.1 875.8,1445.7" fill="url(#pV)" />
<polygon points="938.6,1445.7 938.6,1449.5 942.1,1510.4 946.4,1597.6 949.3,1655.7 949.6,1675.5 955.5,1695.3 963.4,1704.2 969.4,1712.7 975.3,1714.1 983.6,1713.1 984.8,1679.4 985.3,1655.7 986.8,1597.6 989.7,1525.0 994.1,1466.9 997.0,1449.5 997.0,1445.7" fill="url(#pH)" stroke="url(#pH)" stroke-width="2.6" stroke-linejoin="round"/>
<polygon points="956.5,1693.7 967.4,1688.8 977.3,1707.8 975.3,1713.1 969.4,1712.1 963.4,1703.6" fill="url(#pV)" />
<polygon points="939.2,1445.7 939.2,1449.5 942.6,1510.4 947.0,1597.6 949.9,1655.7 951.1,1675.5 956.5,1693.3 967.4,1688.4 977.7,1708.2 982.8,1686.4 984.2,1659.6 984.8,1655.7 986.2,1597.6 989.1,1525.0 993.5,1466.9 996.4,1449.5 996.4,1445.7" fill="#0173B2" />
<polygon points="940.3,1445.7 940.3,1452.4 941.2,1466.9 945.6,1510.4 951.4,1545.3 955.7,1556.9 967.3,1530.8 977.5,1562.7 983.3,1577.2 986.2,1510.4 989.7,1466.9 994.9,1450.9 994.9,1445.7" fill="#D55E00" />
<polygon points="940.3,1445.7 940.3,1450.9 947.0,1466.9 955.7,1456.7 968.8,1462.5 979.0,1468.3 983.3,1481.4 989.1,1466.9 994.9,1449.5 994.9,1445.7" fill="#029E73" />
<polygon points="938.3,1445.7 938.3,1443.6 941.2,1408.8 945.6,1342.0 951.4,1326.0 960.1,1339.1 968.8,1333.3 977.5,1315.8 983.3,1275.2 986.2,1336.2 987.7,1394.3 990.6,1423.3 994.9,1443.6 994.9,1445.7" fill="url(#pY)" />
<polygon points="960.1,1339.7 968.8,1333.9 977.5,1317.3 981.0,1307.1 979.0,1327.5 973.1,1347.8 967.3,1360.9 963.0,1347.8" fill="url(#pH)" />
<polygon points="939.7,1445.7 939.7,1443.6 945.6,1398.6 951.4,1420.4 960.1,1429.1 968.8,1427.7 977.5,1417.5 983.3,1365.2 986.8,1408.8 992.0,1442.2 992.0,1445.7" fill="url(#pP)" />
<polygon points="939.7,1445.7 939.7,1445.1 947.0,1423.3 954.3,1445.1 954.3,1445.7" fill="url(#pV)" />
<polygon points="977.5,1445.7 977.5,1445.1 984.2,1408.8 990.6,1445.1 990.6,1445.7" fill="url(#pV)" />
<polygon points="1083.5,1445.7 1083.5,1448.0 1089.3,1475.6 1093.7,1498.8 1098.0,1513.3 1102.4,1495.9 1106.7,1475.6 1112.6,1452.4 1112.6,1445.7" fill="url(#pH)" stroke="url(#pH)" stroke-width="2.6" stroke-linejoin="round"/>
<polygon points="1084.4,1445.7 1084.4,1448.0 1090.2,1474.1 1094.6,1490.1 1098.9,1497.4 1102.4,1488.7 1106.2,1472.7 1111.7,1452.4 1111.7,1445.7" fill="#0173B2" />
<polygon points="1086.4,1445.7 1086.4,1452.4 1092.2,1469.8 1098.0,1479.9 1103.8,1469.8 1109.7,1452.4 1109.7,1445.7" fill="#D55E00" />
<polygon points="1085.0,1445.7 1085.0,1449.5 1092.2,1456.7 1098.0,1461.1 1103.8,1456.7 1111.1,1449.5 1111.1,1445.7" fill="#029E73" />
<polygon points="1083.5,1445.7 1083.5,1443.6 1089.3,1423.3 1093.7,1405.9 1098.0,1397.2 1102.4,1403.0 1106.7,1423.3 1115.5,1443.6 1115.5,1445.7" fill="url(#pY)" />
<polygon points="1086.4,1445.7 1086.4,1442.2 1093.7,1423.3 1099.5,1417.5 1105.3,1426.2 1112.6,1442.2 1112.6,1445.7" fill="url(#pP)" />
<polygon points="1087.9,1445.7 1087.9,1445.1 1092.2,1433.5 1103.8,1433.5 1109.7,1445.1 1109.7,1445.7" fill="url(#pV)" />
<polygon points="1335.9,1445.7 1335.9,1449.5 1340.3,1510.4 1343.2,1597.6 1346.1,1655.7 1349.0,1713.8 1351.0,1757.3 1356.8,1748.6 1365.6,1766.0 1369.0,1728.3 1371.9,1684.7 1374.8,1597.6 1377.8,1510.4 1380.7,1466.9 1384.1,1449.5 1384.1,1445.7" fill="url(#pH)" stroke="url(#pH)" stroke-width="2.6" stroke-linejoin="round"/>
<polygon points="1336.5,1445.7 1336.5,1449.5 1340.9,1510.4 1343.8,1597.6 1346.7,1655.7 1350.2,1713.8 1358.3,1729.7 1367.9,1713.8 1371.4,1684.7 1374.3,1597.6 1377.2,1510.4 1380.1,1466.9 1383.6,1449.5 1383.6,1445.7" fill="#0173B2" />
<polygon points="1338.0,1445.7 1338.0,1452.4 1338.8,1466.9 1342.3,1510.4 1345.2,1568.5 1349.6,1591.8 1356.8,1594.7 1367.0,1604.8 1371.4,1568.5 1374.3,1510.4 1377.8,1466.9 1381.5,1450.9 1381.5,1445.7" fill="#D55E00" />
<polygon points="1338.8,1445.7 1338.8,1450.9 1343.8,1481.4 1346.7,1494.5 1356.8,1493.0 1368.5,1506.1 1374.3,1481.4 1378.6,1452.4 1378.6,1445.7" fill="#029E73" />
<polygon points="1336.5,1445.7 1336.5,1442.2 1340.9,1394.3 1343.8,1336.2 1346.7,1278.1 1350.2,1253.4 1356.8,1278.1 1361.2,1263.6 1366.4,1234.5 1371.4,1278.1 1374.3,1336.2 1377.2,1394.3 1381.5,1437.8 1384.4,1443.6 1384.4,1445.7" fill="url(#pY)" />
<polygon points="1338.0,1445.7 1338.0,1442.2 1342.3,1394.3 1345.2,1353.6 1351.0,1365.2 1356.8,1379.7 1362.6,1356.5 1367.0,1334.7 1372.8,1359.4 1375.7,1394.3 1380.1,1429.1 1383.0,1442.2 1383.0,1445.7" fill="url(#pP)" />
<polygon points="1336.1,1445.7 1336.1,1442.4 1340.9,1426.9 1343.3,1409.0 1345.1,1401.8 1349.8,1407.8 1352.8,1417.4 1356.4,1431.7 1359.4,1423.3 1363.0,1406.6 1365.9,1395.9 1368.3,1395.3 1371.9,1397.1 1373.7,1406.6 1376.1,1420.9 1379.7,1435.3 1382.6,1442.4 1382.6,1445.7" fill="url(#pV)" />
</g>
<line x1="341.9" y1="1445.7" x2="1421" y2="1445.7" stroke="#000" stroke-width="5.2" stroke-dasharray="18.8 8.8"/>
<polyline points="392.5,1445.7 439.5,1445.7 442.4,1452.4 446.8,1481.4 449.7,1525.0 452.6,1568.5 458.4,1594.7 464.8,1601.9 472.9,1594.7 480.2,1568.5 484.6,1533.7 488.9,1495.9 491.8,1466.9 496.2,1449.5 500.5,1445.7 583.3,1445.7 592.0,1449.5 600.7,1456.7 605.1,1453.8 610.9,1456.7 618.2,1449.5 624.0,1445.7 695.1,1445.7 699.5,1452.4 703.8,1481.4 706.7,1539.5 709.7,1583.1 714.0,1612.1 719.8,1622.3 730.0,1623.7 738.7,1620.8 744.5,1609.2 748.9,1583.1 753.2,1525.0 756.1,1466.9 759.0,1452.4 763.4,1445.7 819.2,1445.7 823.6,1455.3 826.5,1495.9 830.8,1539.5 835.2,1574.3 841.0,1599.0 847.4,1604.8 855.5,1599.0 861.3,1580.2 865.7,1539.5 870.0,1495.9 872.9,1466.9 875.8,1449.5 880.2,1445.7 935.4,1445.7 939.7,1452.4 942.6,1495.9 947.0,1539.5 952.8,1574.3 960.1,1597.6 967.3,1604.8 974.6,1597.6 980.4,1577.2 984.8,1539.5 987.7,1495.9 990.6,1466.9 994.9,1449.5 999.3,1445.7 1080.6,1445.7 1086.4,1449.5 1092.2,1461.1 1098.0,1465.4 1103.8,1461.1 1111.1,1449.5 1116.9,1445.7 1290.0,1445.7" fill="none" stroke="#0a0a0a" stroke-width="7.2" stroke-linejoin="round" stroke-linecap="butt" />
<polyline points="1313.3,1445.7 1335.1,1445.7 1339.4,1455.3 1342.3,1495.9 1345.2,1539.5 1349.6,1568.5 1356.0,1581.6 1362.6,1574.3 1368.5,1545.3 1372.8,1495.9 1376.6,1466.9 1380.7,1450.9 1385.9,1445.7 1420.7,1445.7" fill="none" stroke="#0a0a0a" stroke-width="7.2" stroke-linejoin="round" stroke-linecap="butt" />
<circle cx="1302" cy="1445.7" r="13.8" stroke="#000" stroke-width="6.4" fill="#fff"/>
<line x1="340.9" y1="86.6" x2="340.9" y2="564.1" stroke="#000" stroke-width="5.4" fill="none"/>
<line x1="340.9" y1="89.1" x2="364.79999999999995" y2="89.1" stroke="#000" stroke-width="5.2"/>
<line x1="340.9" y1="183.6" x2="364.79999999999995" y2="183.6" stroke="#000" stroke-width="5.2"/>
<line x1="340.9" y1="278.1" x2="364.79999999999995" y2="278.1" stroke="#000" stroke-width="5.2"/>
<line x1="340.9" y1="372.6" x2="364.79999999999995" y2="372.6" stroke="#000" stroke-width="5.2"/>
<line x1="340.9" y1="467.1" x2="364.79999999999995" y2="467.1" stroke="#000" stroke-width="5.2"/>
<line x1="340.9" y1="561.6" x2="364.79999999999995" y2="561.6" stroke="#000" stroke-width="5.2"/>
<line x1="340.9" y1="136.35" x2="354.9" y2="136.35" stroke="#000" stroke-width="4.2"/>
<line x1="340.9" y1="230.85000000000002" x2="354.9" y2="230.85000000000002" stroke="#000" stroke-width="4.2"/>
<line x1="340.9" y1="325.35" x2="354.9" y2="325.35" stroke="#000" stroke-width="4.2"/>
<line x1="340.9" y1="419.85" x2="354.9" y2="419.85" stroke="#000" stroke-width="4.2"/>
<line x1="340.9" y1="514.35" x2="354.9" y2="514.35" stroke="#000" stroke-width="4.2"/>
<text x="315.2" y="107.3" font-size="50.5" text-anchor="end" >2</text>
<text x="315.2" y="201.79999999999998" font-size="50.5" text-anchor="end" >0</text>
<text x="315.2" y="296.3" font-size="50.5" text-anchor="end" >-2</text>
<text x="315.2" y="390.8" font-size="50.5" text-anchor="end" >-4</text>
<text x="315.2" y="485.3" font-size="50.5" text-anchor="end" >-6</text>
<text x="315.2" y="579.8000000000001" font-size="50.5" text-anchor="end" >-8</text>
<line x1="340.9" y1="1254.2" x2="340.9" y2="1731.7" stroke="#000" stroke-width="5.4" fill="none"/>
<line x1="340.9" y1="1256.7" x2="364.79999999999995" y2="1256.7" stroke="#000" stroke-width="5.2"/>
<line x1="340.9" y1="1351.2" x2="364.79999999999995" y2="1351.2" stroke="#000" stroke-width="5.2"/>
<line x1="340.9" y1="1445.7" x2="364.79999999999995" y2="1445.7" stroke="#000" stroke-width="5.2"/>
<line x1="340.9" y1="1540.2" x2="364.79999999999995" y2="1540.2" stroke="#000" stroke-width="5.2"/>
<line x1="340.9" y1="1634.7" x2="364.79999999999995" y2="1634.7" stroke="#000" stroke-width="5.2"/>
<line x1="340.9" y1="1729.2" x2="364.79999999999995" y2="1729.2" stroke="#000" stroke-width="5.2"/>
<line x1="340.9" y1="1303.95" x2="354.9" y2="1303.95" stroke="#000" stroke-width="4.2"/>
<line x1="340.9" y1="1398.45" x2="354.9" y2="1398.45" stroke="#000" stroke-width="4.2"/>
<line x1="340.9" y1="1492.95" x2="354.9" y2="1492.95" stroke="#000" stroke-width="4.2"/>
<line x1="340.9" y1="1587.45" x2="354.9" y2="1587.45" stroke="#000" stroke-width="4.2"/>
<line x1="340.9" y1="1681.95" x2="354.9" y2="1681.95" stroke="#000" stroke-width="4.2"/>
<text x="311" y="1274.9" font-size="50.5" text-anchor="end" >100</text>
<text x="311" y="1369.4" font-size="50.5" text-anchor="end" >50</text>
<text x="311" y="1463.9" font-size="50.5" text-anchor="end" >0</text>
<text x="311" y="1558.4" font-size="50.5" text-anchor="end" >-50</text>
<text x="311" y="1652.9" font-size="50.5" text-anchor="end" >-100</text>
<text x="311" y="1747.4" font-size="50.5" text-anchor="end" >-150</text>
<line x1="1420.7" y1="687.0" x2="1420.7" y2="1165.2" stroke="#000" stroke-width="5.4" fill="none"/>
<line x1="1420.7" y1="689.5" x2="1396.8" y2="689.5" stroke="#000" stroke-width="5.2"/>
<line x1="1420.7" y1="762.3" x2="1396.8" y2="762.3" stroke="#000" stroke-width="5.2"/>
<line x1="1420.7" y1="835.1" x2="1396.8" y2="835.1" stroke="#000" stroke-width="5.2"/>
<line x1="1420.7" y1="907.9" x2="1396.8" y2="907.9" stroke="#000" stroke-width="5.2"/>
<line x1="1420.7" y1="980.7" x2="1396.8" y2="980.7" stroke="#000" stroke-width="5.2"/>
<line x1="1420.7" y1="1053.5" x2="1396.8" y2="1053.5" stroke="#000" stroke-width="5.2"/>
<line x1="1420.7" y1="1126.3" x2="1396.8" y2="1126.3" stroke="#000" stroke-width="5.2"/>
<line x1="1420.7" y1="725.9" x2="1406.7" y2="725.9" stroke="#000" stroke-width="4.2"/>
<line x1="1420.7" y1="798.7" x2="1406.7" y2="798.7" stroke="#000" stroke-width="4.2"/>
<line x1="1420.7" y1="871.5" x2="1406.7" y2="871.5" stroke="#000" stroke-width="4.2"/>
<line x1="1420.7" y1="944.3" x2="1406.7" y2="944.3" stroke="#000" stroke-width="4.2"/>
<line x1="1420.7" y1="1017.1" x2="1406.7" y2="1017.1" stroke="#000" stroke-width="4.2"/>
<line x1="1420.7" y1="1089.9" x2="1406.7" y2="1089.9" stroke="#000" stroke-width="4.2"/>
<line x1="1420.7" y1="1162.7" x2="1406.7" y2="1162.7" stroke="#000" stroke-width="4.2"/>
<text x="1443.5" y="707.7" font-size="50.5" text-anchor="start" >0.8</text>
<text x="1443.5" y="780.5" font-size="50.5" text-anchor="start" >0.4</text>
<text x="1443.5" y="853.3000000000001" font-size="50.5" text-anchor="start" >0.0</text>
<text x="1443.5" y="926.1" font-size="50.5" text-anchor="start" >-0.4</text>
<text x="1443.5" y="998.9000000000001" font-size="50.5" text-anchor="start" >-0.8</text>
<text x="1443.5" y="1071.7" font-size="50.5" text-anchor="start" >-1.2</text>
<text x="1443.5" y="1144.5" font-size="50.5" text-anchor="start" >-1.6</text>
<line x1="338.6" y1="1784.8" x2="1423.4" y2="1784.8" stroke="#000" stroke-width="5.7"/>
<line x1="341.3" y1="1784.8" x2="341.3" y2="1761.3" stroke="#000" stroke-width="5"/>
<line x1="395.3" y1="1784.8" x2="395.3" y2="1770.8" stroke="#000" stroke-width="4.2"/>
<line x1="449.3" y1="1784.8" x2="449.3" y2="1770.8" stroke="#000" stroke-width="4.2"/>
<line x1="503.3" y1="1784.8" x2="503.3" y2="1770.8" stroke="#000" stroke-width="4.2"/>
<line x1="557.3" y1="1784.8" x2="557.3" y2="1770.8" stroke="#000" stroke-width="4.2"/>
<line x1="611.3" y1="1784.8" x2="611.3" y2="1761.3" stroke="#000" stroke-width="5"/>
<line x1="665.3" y1="1784.8" x2="665.3" y2="1770.8" stroke="#000" stroke-width="4.2"/>
<line x1="719.3" y1="1784.8" x2="719.3" y2="1770.8" stroke="#000" stroke-width="4.2"/>
<line x1="773.3" y1="1784.8" x2="773.3" y2="1770.8" stroke="#000" stroke-width="4.2"/>
<line x1="827.3" y1="1784.8" x2="827.3" y2="1770.8" stroke="#000" stroke-width="4.2"/>
<line x1="881.3" y1="1784.8" x2="881.3" y2="1761.3" stroke="#000" stroke-width="5"/>
<line x1="935.3" y1="1784.8" x2="935.3" y2="1770.8" stroke="#000" stroke-width="4.2"/>
<line x1="989.3" y1="1784.8" x2="989.3" y2="1770.8" stroke="#000" stroke-width="4.2"/>
<line x1="1043.3" y1="1784.8" x2="1043.3" y2="1770.8" stroke="#000" stroke-width="4.2"/>
<line x1="1097.3" y1="1784.8" x2="1097.3" y2="1770.8" stroke="#000" stroke-width="4.2"/>
<line x1="1151.3" y1="1784.8" x2="1151.3" y2="1761.3" stroke="#000" stroke-width="5"/>
<line x1="1205.3" y1="1784.8" x2="1205.3" y2="1770.8" stroke="#000" stroke-width="4.2"/>
<line x1="1259.3" y1="1784.8" x2="1259.3" y2="1770.8" stroke="#000" stroke-width="4.2"/>
<line x1="1313.3" y1="1784.8" x2="1313.3" y2="1770.8" stroke="#000" stroke-width="4.2"/>
<line x1="1367.3" y1="1784.8" x2="1367.3" y2="1770.8" stroke="#000" stroke-width="4.2"/>
<line x1="1421.3" y1="1784.8" x2="1421.3" y2="1761.3" stroke="#000" stroke-width="5"/>
<text x="339.1" y="1844.7" font-size="50.5" text-anchor="middle" >200</text>
<text x="607.0" y="1844.7" font-size="50.5" text-anchor="middle" >150</text>
<text x="877.0" y="1844.7" font-size="50.5" text-anchor="middle" >100</text>
<text x="1147.0" y="1844.7" font-size="50.5" text-anchor="middle" >50</text>
<text x="1417.0" y="1844.7" font-size="50.5" text-anchor="middle" >0</text>
<text x="738.2" y="1916.9" font-size="50.5" text-anchor="start" >Time (ka)</text>
<path d="M961.3 1904.6 H1014 M999.4 1891.7 Q1003 1900.5 1015.6 1904.6 Q1003 1908.7 999.4 1917.5" stroke="#000" stroke-width="2.8" fill="none" stroke-linecap="round"/>
<text x="1501.2" y="326.5" font-size="50.5" text-anchor="middle" >(a)</text>
<text x="907" y="667" font-size="50.5" text-anchor="middle" >(b)</text>
<text x="1500.2" y="1493.5" font-size="50.5" text-anchor="middle" >(c)</text>
<path transform="translate(234.5,536.5) rotate(-90) scale(1.0)" fill-rule="evenodd" fill="#000" d="M0 0 L20.3 -33.7 L22.3 -33.7 L36.4 -0.9 L36.2 0 Z M4.0 -2.3 L28.4 -2.3 L18.5 -25.9 Z"/>
<text transform="translate(234.5,497.3) rotate(-90)" font-size="50.5" text-anchor="start" word-spacing="6px">Temperature (°C)</text>
<path transform="translate(181,1673) rotate(-90) scale(1.0)" fill-rule="evenodd" fill="#000" d="M0 0 L20.3 -33.7 L22.3 -33.7 L36.4 -0.9 L36.2 0 Z M4.0 -2.3 L28.4 -2.3 L18.5 -25.9 Z"/>
<text transform="translate(181,1633.8) rotate(-90)" font-size="50.5" text-anchor="start" word-spacing="0px">Vegetation (%)</text>
<path transform="translate(1604,1180.5) rotate(-90) scale(1.0)" fill-rule="evenodd" fill="#000" d="M0 0 L20.3 -33.7 L22.3 -33.7 L36.4 -0.9 L36.2 0 Z M4.0 -2.3 L28.4 -2.3 L18.5 -25.9 Z"/>
<text transform="translate(1604,1141.3) rotate(-90)" font-size="50.5" text-anchor="start" word-spacing="3.5px">Precipitation (mm d<tspan dy="-24" dx="-5" font-size="35">-1</tspan><tspan dy="24" dx="5">)</tspan></text>
<text x="241.8" y="701.2" font-size="42.6" text-anchor="end" word-spacing="8.5px">Ref. glac.</text>
<text x="241.7" y="818.3000000000001" font-size="42.6" text-anchor="end" word-spacing="3.4px">GHGs</text>
<text x="239.5" y="878.4000000000001" font-size="42.6" text-anchor="end" word-spacing="3.4px">Ice</text>
<text x="244.1" y="938.0" font-size="42.6" text-anchor="end" word-spacing="3.4px">Orbital</text>
<text x="243" y="996.7" font-size="42.6" text-anchor="end" word-spacing="3.4px">GHGs + Ice</text>
<text x="242.7" y="1055.6000000000001" font-size="42.6" text-anchor="end" word-spacing="3.4px">GHGs + Orb.</text>
<text x="241.6" y="1115.1000000000001" font-size="42.6" text-anchor="end" word-spacing="3.4px">Ice + Orb.</text>
<text x="244.0" y="1174.7" font-size="42.6" text-anchor="end" word-spacing="3.4px">All</text>
<path transform="translate(200.3,758.9) scale(0.9)" fill-rule="evenodd" fill="#000" d="M0 0 L20.3 -33.7 L22.3 -33.7 L36.4 -0.9 L36.2 0 Z M4.0 -2.3 L28.4 -2.3 L18.5 -25.9 Z"/>
<circle cx="296.4" cy="685.3" r="14.05" stroke="#000" stroke-width="6.8" fill="#fff"/>
<line x1="273.9" y1="744.5" x2="319" y2="744.5" stroke="#0a0a0a" stroke-width="6.9"/>
<rect x="277" y="789.5" width="38" height="29" fill="#029E73"/>
<rect x="277" y="848.6" width="38" height="29" fill="#D55E00"/>
<rect x="277" y="907.8" width="38" height="29" fill="#0173B2"/>
<rect x="277" y="967.0" width="38" height="29" fill="url(#pV)"/>
<rect x="277" y="1026.1" width="38" height="29" fill="url(#pP)"/>
<rect x="277" y="1085.2" width="38" height="29" fill="url(#pY)"/>
<rect x="277" y="1144.4" width="38" height="29" fill="url(#pH)"/>
</svg></body></html>
